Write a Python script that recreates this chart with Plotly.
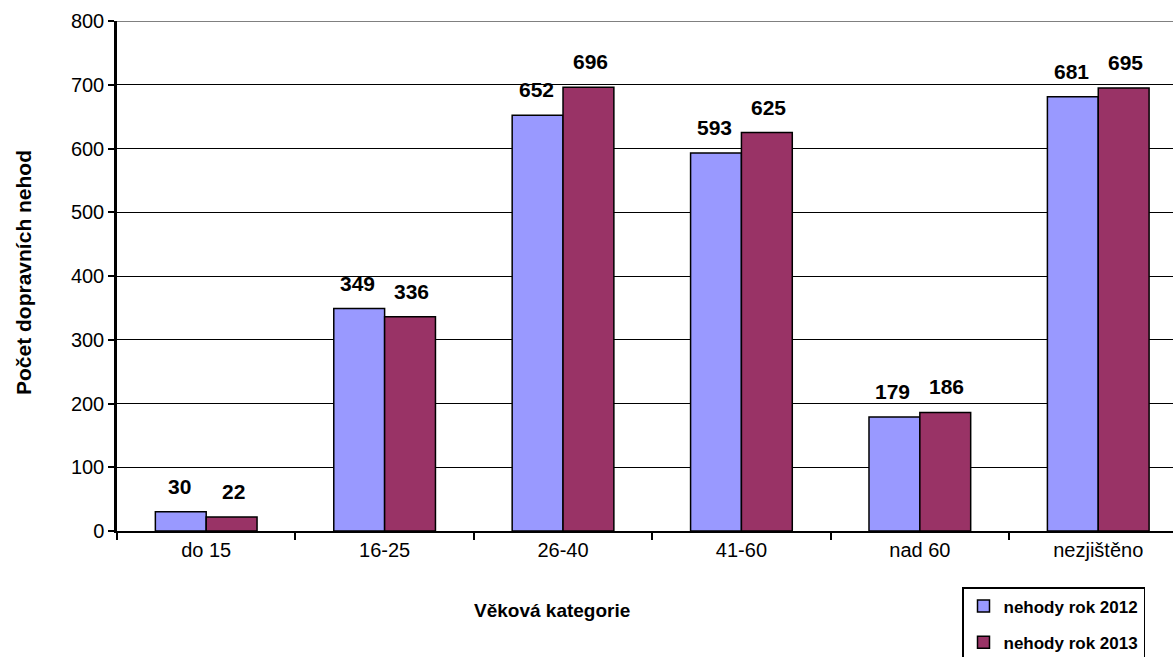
import plotly.graph_objects as go

categories = ["do 15", "16-25", "26-40", "41-60", "nad 60", "nezjištěno"]
nehody_2012 = [30, 349, 652, 593, 179, 681]
nehody_2013 = [22, 336, 696, 625, 186, 695]
y_ticks = [0, 100, 200, 300, 400, 500, 600, 700, 800]

FONT = "Liberation Sans, Arial, sans-serif"

fig = go.Figure()
fig.add_trace(go.Bar(
    x=categories, y=nehody_2012, name="<b>nehody rok 2012</b>",
    marker=dict(color="#9999FF", line=dict(color="black", width=1.5)),
    legendgroup="a",
))
fig.add_trace(go.Bar(
    x=categories, y=nehody_2013, name="<b>nehody rok 2013</b>",
    marker=dict(color="#993366", line=dict(color="black", width=1.5)),
    legendgroup="b",
))

# data labels
for trace_vals, side in [(nehody_2012, -1), (nehody_2013, 1)]:
    for c, v in zip(categories, trace_vals):
        fig.add_annotation(
            x=c, y=v, xref="x", yref="y", text=f"<b>{v}</b>",
            showarrow=False, yanchor="bottom", xshift=side * 27, yshift=12,
            font=dict(family=FONT, size=21, color="black"),
        )

# gray top border at 800
fig.add_shape(type="line", xref="paper", yref="y", x0=0, x1=1, y0=800, y1=800,
              line=dict(color="#808080", width=2))

fig.add_annotation(
    text="<b>Věková kategorie</b>", xref="paper", yref="paper",
    x=(552 - 117) / 1056, y=(531 - 611) / 510, showarrow=False,
    xanchor="center", yanchor="middle",
    font=dict(family=FONT, size=19, color="black"),
)
fig.add_annotation(
    text="<b>Počet dopravních nehod</b>", xref="paper", yref="paper",
    x=(23 - 117) / 1056, y=(531 - 273) / 510, showarrow=False, textangle=-90,
    xanchor="center", yanchor="middle",
    font=dict(family=FONT, size=21, color="black"),
)

fig.update_layout(
    width=1173, height=657,
    margin=dict(l=117, r=0, t=21, b=126, autoexpand=False),
    paper_bgcolor="white", plot_bgcolor="white",
    barmode="group", bargap=0.43, bargroupgap=0,
    font=dict(family=FONT, size=19, color="black"),
    showlegend=True,
    legend=dict(
        x=(962 - 117) / 1056, y=(531 - 587) / 510, xanchor="left", yanchor="top",
        bordercolor="black", borderwidth=1.5, bgcolor="white",
        font=dict(family=FONT, size=17, color="black"),
        traceorder="grouped", tracegroupgap=11,
        itemwidth=30,
    ),
    xaxis=dict(
        range=[-0.5, 5.419], showgrid=False, tickson="boundaries",
        ticks="outside", ticklen=7, tickcolor="black", tickwidth=1.5,
        showline=True, linecolor="black", linewidth=2,
        tickfont=dict(family=FONT, size=20, color="black"),
        fixedrange=True,
    ),
    yaxis=dict(
        range=[0, 800], tickvals=y_ticks, showgrid=True, gridcolor="black", gridwidth=1,
        ticks="outside", ticklen=6, tickcolor="black", tickwidth=1.5,
        showline=True, linecolor="black", linewidth=2.5, zeroline=False,
        tickfont=dict(family=FONT, size=20, color="black"),
        fixedrange=True,
    ),
)

fig.write_html("out.html", config={"displayModeBar": False},
               post_script="document.body.style.margin='0';")
